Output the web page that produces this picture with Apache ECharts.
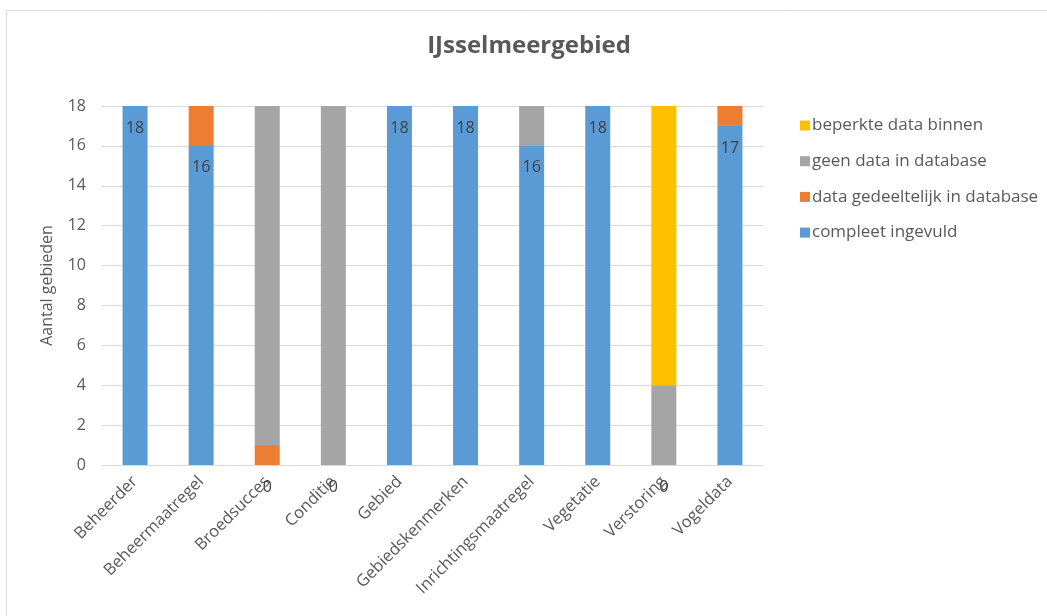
<!DOCTYPE html>
<html><head><meta charset="utf-8">
<script src="https://cdn.jsdelivr.net/npm/echarts@6/dist/echarts.min.js"></script>
<style>html,body{margin:0;padding:0;background:#fff}#c{width:1047px;height:616px}</style>
</head><body><div id="c"></div>
<script>
const categories = ['Beheerder','Beheermaatregel','Broedsucces','Conditie','Gebied','Gebiedskenmerken','Inrichtingsmaatregel','Vegetatie','Verstoring','Vogeldata'];
const compleet = [18,16,0,0,18,18,16,18,0,17];
const gedeeltelijk = [0,2,1,0,0,0,0,0,0,1];
const geenData = [0,0,17,18,0,0,2,0,4,0];
const beperkt = [0,0,0,0,0,0,0,0,14,0];
const yTicks = [0,2,4,6,8,10,12,14,16,18];

const FONT = 'Open Sans';
const chart = echarts.init(document.getElementById('c'));
const blueData = compleet.map(v => v === 0
  ? {value: v, label: {position: 'bottom', distance: 14}}
  : v);
chart.setOption({
  animation: false,
  textStyle: {fontFamily: FONT},
  title: {text: 'IJsselmeergebied', left: 524, top: 29, textAlign: 'center',
    textStyle: {fontSize: 24, fontWeight: 'bold', color: '#595959', fontFamily: FONT}},
  graphic: [{type: 'rect', shape: {x: 6.5, y: 10.5, width: 1100, height: 700},
    style: {fill: 'none', stroke: '#d9d9d9', lineWidth: 1}, silent: true}],
  grid: {left: 102, right: 284, top: 106, bottom: 151, containLabel: false},
  legend: {orient: 'vertical', left: 795, top: 109, itemWidth: 10, itemHeight: 10, itemGap: 12.7,
    icon: 'rect', textStyle: {fontSize: 17, color: '#595959', fontFamily: FONT, padding: [0,0,0,-3], lineHeight: 23},
    data: ['beperkte data binnen','geen data in database','data gedeeltelijk in database','compleet ingevuld']},
  xAxis: {type: 'category', data: categories,
    axisLine: {lineStyle: {color: '#d9d9d9', width: 1}}, axisTick: {show: false},
    axisLabel: {rotate: 45, color: '#595959', fontSize: 16.5, interval: 0, margin: 14}},
  yAxis: {type: 'value', min: 0, max: 18, interval: 2,
    name: 'Aantal gebieden', nameLocation: 'middle', nameGap: 47,
    nameTextStyle: {fontSize: 16, color: '#595959'},
    axisLine: {show: false}, axisTick: {show: false},
    axisLabel: {color: '#595959', fontSize: 16, margin: 16,
      formatter: v => yTicks.includes(v) ? String(v) : ''},
    splitLine: {lineStyle: {color: '#d9d9d9', width: 1}}},
  series: [
    {name: 'compleet ingevuld', type: 'bar', stack: 's', data: blueData, barWidth: 25,
      itemStyle: {color: '#5B9BD5'},
      label: {show: true, position: 'insideTop', distance: 14, color: '#404040', fontSize: 16}, z: 3},
    {name: 'data gedeeltelijk in database', type: 'bar', stack: 's', data: gedeeltelijk, barWidth: 25,
      itemStyle: {color: '#ED7D31'}},
    {name: 'geen data in database', type: 'bar', stack: 's', data: geenData, barWidth: 25,
      itemStyle: {color: '#A5A5A5'}},
    {name: 'beperkte data binnen', type: 'bar', stack: 's', data: beperkt, barWidth: 25,
      itemStyle: {color: '#FFC000'}}
  ]
});
</script></body></html>
